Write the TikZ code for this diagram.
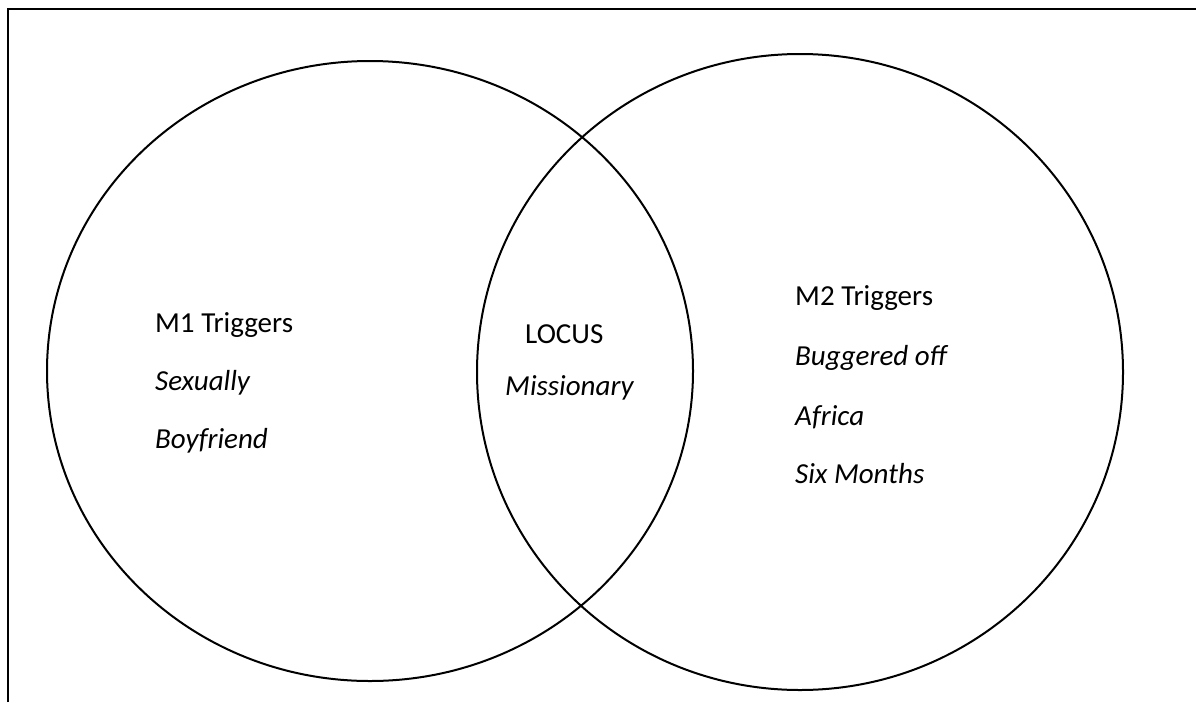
\documentclass[tikz,border=0pt]{standalone}
\usepackage{fontspec}
\setmainfont{Carlito}
\begin{document}
\begin{tikzpicture}[x=1pt,y=-1pt,
  ring/.style={draw=black,line width=2pt},
  frameline/.style={draw=black,line width=2pt},
  head/.style={anchor=base west,inner sep=0pt,font=\fontsize{29}{29}\selectfont},
  term/.style={anchor=base west,inner sep=0pt,font=\fontsize{29}{29}\selectfont\itshape}]
  \useasboundingbox (0,0) rectangle (1196,702);
  % partial box frame
  \draw[frameline] (8,702) -- (8,9) -- (1196,9);
  % the two overlapping sets
  \draw[ring] (370,371) ellipse [x radius=323, y radius=310];
  \draw[ring] (800,372) ellipse [x radius=323, y radius=318];
  % left set
  \node[head] (m1) at (155,332) {M1 Triggers};
  \node[term] (m1a) at (155,390) {Sexually};
  \node[term] (m1b) at (155,448) {Boyfriend};
  % overlap
  \node[head] (loc) at (525,343) {LOCUS};
  \node[term] (loca) at (505,395) {Missionary};
  % right set
  \node[head] (m2) at (795,305) {M2 Triggers};
  \node[term] (m2a) at (795,365) {Buggered off};
  \node[term] (m2b) at (795,425) {Africa};
  \node[term] (m2c) at (795,483) {Six Months};
\end{tikzpicture}
\end{document}
